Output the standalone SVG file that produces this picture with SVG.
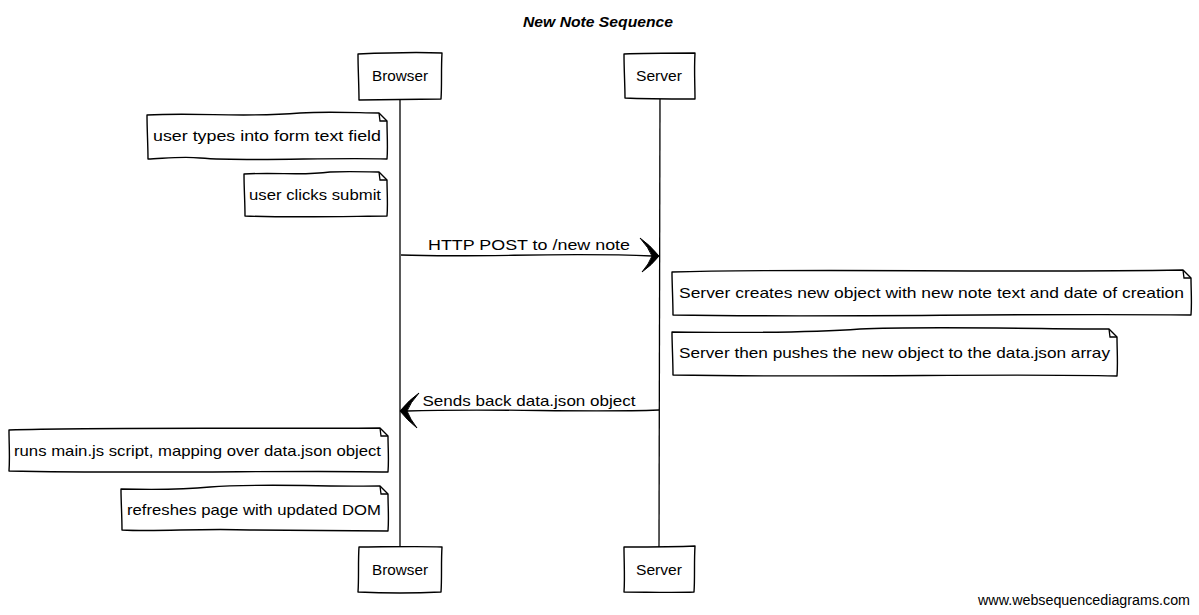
<svg xmlns="http://www.w3.org/2000/svg" width="1199" height="615" viewBox="0 0 1199 615">
<style>
  .bg { fill: #ffffff; }
  .shape { fill: #ffffff; stroke: #000000; stroke-width: 1.4; stroke-linejoin: round; }
  .line { fill: none; stroke: #000000; stroke-width: 1.3; }
  .head { fill: #000000; stroke: #000000; stroke-width: 1; stroke-linejoin: round; }
  .t { font-family: "Liberation Sans", Arial, sans-serif; font-size: 15px; fill: #000000; }
  .title { font-family: "Liberation Sans", Arial, sans-serif; font-size: 15px; font-weight: bold; font-style: italic; fill: #000000; }
  .wm { font-family: "Liberation Sans", Arial, sans-serif; font-size: 14px; fill: #000000; }
</style>
<rect class="bg" x="0" y="0" width="1199" height="615"/>

<text class="title" x="598" y="27" text-anchor="middle" textLength="150" lengthAdjust="spacingAndGlyphs">New Note Sequence</text>

<g id="connectors">
  <path class="line" d="M400,99 C400.5,250 401,400 400,547"/>
  <path class="line" d="M660,99 C660.5,250 660,400 659,547"/>
  <g id="msg1">
    <path class="line" d="M401,255 C480,258 560,252 652,256"/>
    <path class="head" d="M659,256 Q650,245 640,238 Q649,248 652,256 Q649,264 642,272 Q652,265 659,256 Z"/>
    <text class="t" x="529" y="250" text-anchor="middle" textLength="202" lengthAdjust="spacingAndGlyphs">HTTP POST to /new note</text>
  </g>
  <g id="msg2">
    <path class="line" d="M659,410 C580,413 500,408 407,411"/>
    <path class="head" d="M400,411 Q409,400 419,393 Q410,403 407,411 Q410,419 417,428 Q407,420 400,411 Z"/>
    <text class="t" x="529" y="406" text-anchor="middle" textLength="213" lengthAdjust="spacingAndGlyphs">Sends back data.json object</text>
  </g>
</g>

<g id="browser-top">
  <path class="shape" d="M358,54 C380,53 420,52 442,53 C441,70 442,85 441,99 C420,99 380,100 359,100 C359,85 358,70 358,54 Z"/>
  <text class="t" x="400" y="81" text-anchor="middle" textLength="56" lengthAdjust="spacingAndGlyphs">Browser</text>
</g>
<g id="server-top">
  <path class="shape" d="M624,54 C645,53 675,53 695,53 C694,70 695,85 695,99 C675,99 645,99 625,98 C625,85 624,70 624,54 Z"/>
  <text class="t" x="659" y="81" text-anchor="middle" textLength="46" lengthAdjust="spacingAndGlyphs">Server</text>
</g>
<g id="browser-bottom">
  <path class="shape" d="M359,547 C380,547 420,546 442,547 C441,562 442,578 441,592 C420,593 380,593 358,592 C359,578 358,562 359,547 Z"/>
  <text class="t" x="400" y="575" text-anchor="middle" textLength="56" lengthAdjust="spacingAndGlyphs">Browser</text>
</g>
<g id="server-bottom">
  <path class="shape" d="M624,547 C645,547 675,547 695,546 C694,562 695,578 694,592 C675,593 645,592 624,592 C625,578 624,562 624,547 Z"/>
  <text class="t" x="659" y="575" text-anchor="middle" textLength="46" lengthAdjust="spacingAndGlyphs">Server</text>
</g>

<g id="note1">
  <path class="shape" d="M147,115 C200,112 240,118 300,113 C330,111 360,113 379,113 L387,121 C387,135 388,148 387,159 C330,157 250,162 200,158 C180,156 160,159 148,159 C148,145 147,130 147,115 Z"/>
  <path class="line" d="M379,113 L380,121 L387,121"/>
  <text class="t" x="153" y="141" textLength="228" lengthAdjust="spacingAndGlyphs">user types into form text field</text>
</g>
<g id="note2">
  <path class="shape" d="M244,174 C280,172 300,176 330,172 C350,171 370,172 379,172 L387,180 C387,192 388,205 387,216 C360,216 300,218 245,216 C245,202 244,188 244,174 Z"/>
  <path class="line" d="M379,172 L380,180 L387,180"/>
  <text class="t" x="249" y="200" textLength="132" lengthAdjust="spacingAndGlyphs">user clicks submit</text>
</g>
<g id="note3">
  <path class="shape" d="M672,272 C800,268 1000,273 1183,270 L1191,278 C1191,290 1192,303 1191,315 C1000,313 850,318 673,315 C673,300 672,285 672,272 Z"/>
  <path class="line" d="M1183,270 L1184,278 L1191,278"/>
  <text class="t" x="679" y="298" textLength="505" lengthAdjust="spacingAndGlyphs">Server creates new object with new note text and date of creation</text>
</g>
<g id="note4">
  <path class="shape" d="M672,332 C750,333 820,332 860,329 C920,326 1050,329 1109,329 L1117,337 C1117,350 1118,363 1117,376 C1000,373 850,378 673,375 C673,360 672,345 672,332 Z"/>
  <path class="line" d="M1109,329 L1110,337 L1117,337"/>
  <text class="t" x="679" y="358" textLength="431" lengthAdjust="spacingAndGlyphs">Server then pushes the new object to the data.json array</text>
</g>
<g id="note5">
  <path class="shape" d="M9,430 C100,427 250,429 380,428 L388,436 C388,448 389,460 388,472 C300,470 150,474 9,471 C10,458 9,444 9,430 Z"/>
  <path class="line" d="M380,428 L381,436 L388,436"/>
  <text class="t" x="14" y="456" textLength="367" lengthAdjust="spacingAndGlyphs">runs main.js script, mapping over data.json object</text>
</g>
<g id="note6">
  <path class="shape" d="M121,489 C160,490 190,489 210,487 C260,483 330,487 380,486 L388,494 C388,506 389,519 388,531 C330,531 280,530 250,530 C200,528 160,532 122,530 C122,516 121,502 121,489 Z"/>
  <path class="line" d="M380,486 L381,494 L388,494"/>
  <text class="t" x="127" y="515" textLength="254" lengthAdjust="spacingAndGlyphs">refreshes page with updated DOM</text>
</g>

<text class="wm" x="1190" y="605" text-anchor="end" textLength="212" lengthAdjust="spacingAndGlyphs">www.websequencediagrams.com</text>
</svg>
